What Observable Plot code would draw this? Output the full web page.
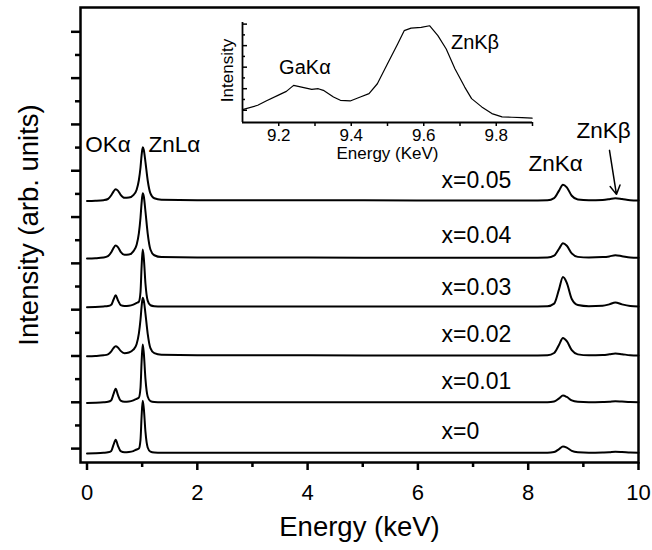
<!DOCTYPE html>
<html>
<head>
<meta charset="utf-8">
<script src="https://cdn.jsdelivr.net/npm/d3@7"></script>
<script src="https://cdn.jsdelivr.net/npm/@observablehq/plot@0.6"></script>
<style>
  html, body { margin: 0; padding: 0; background: #fff; }
  #chart { position: relative; width: 652px; height: 550px; }
  #chart svg { display: block; }
</style>
</head>
<body>
<div id="chart"></div>
<script>
// ---- Main EDS spectra (energy in keV, intensity in arb. units above each baseline) ----
const energy = [0, 0.15, 0.3, 0.38, 0.44, 0.48, 0.52, 0.56, 0.61, 0.68, 0.76, 0.84, 0.9, 0.94, 0.97, 0.99, 1.01, 1.03, 1.06, 1.1, 1.15, 1.22, 1.35, 2, 4, 6, 8, 8.35, 8.47, 8.56, 8.63, 8.7, 8.79, 8.9, 9.1, 9.35, 9.47, 9.58, 9.7, 9.85, 10];

const I_x005 = [-0.3, -0.2, 0.1, 0.6, 2.2, 3.8, 4.8, 4.2, 2.4, 1.1, 1.2, 2.3, 4.6, 8.7, 14.2, 19.5, 22.9, 21.8, 16.5, 8.7, 3.0, 0.9, 0.3, 0.1, 0.1, 0, 0, 0.1, 1.0, 4.2, 6.8, 5.6, 2.0, 0.4, 0.1, 0.2, 0.5, 0.9, 0.6, 0.1, 0];
const I_x004 = [-0.3, -0.2, 0.1, 0.7, 2.4, 4.2, 5.3, 4.6, 2.6, 1.3, 1.4, 2.8, 5.6, 10.6, 17.3, 23.7, 27.9, 26.5, 20, 10.6, 3.6, 1.1, 0.3, 0.1, 0.1, 0, 0, 0.1, 0.9, 3.9, 6.3, 5.2, 1.9, 0.4, 0.1, 0.3, 0.6, 1.1, 0.7, 0.1, 0];
const I_x003 = [-0.3, -0.2, 0, 0.15, 0.7, 2.9, 4.8, 2.7, 0.6, 0.2, 0.3, 0.8, 1.5, 2.0, 6.2, 17.2, 24.6, 20.9, 9.8, 2.5, 0.5, 0.1, 0, 0, 0, 0, 0, 0.1, 1.2, 7.5, 12.7, 10.2, 3.2, 0.6, 0.1, 0.3, 0.9, 1.7, 0.9, 0.2, 0];
const I_x002 = [-0.3, -0.2, 0.1, 0.5, 1.8, 3.2, 4.0, 3.5, 2.0, 1.0, 1.3, 2.5, 5.0, 9.5, 15.5, 21.2, 25, 23.7, 18, 9.5, 3.2, 1.0, 0.3, 0.1, 0.1, 0, 0, 0.1, 1.1, 4.7, 7.6, 6.2, 2.3, 0.5, 0.1, 0.2, 0.5, 0.9, 0.6, 0.1, 0];
const I_x001 = [-0.3, -0.2, 0, 0.2, 0.9, 3.5, 5.8, 3.2, 0.7, 0.2, 0.3, 0.8, 1.5, 2.0, 6.3, 17.5, 25, 21.2, 10, 2.5, 0.5, 0.1, 0, 0, 0, 0, 0, 0, 0.3, 1.7, 2.9, 2.3, 0.8, 0.2, 0, 0.1, 0.2, 0.45, 0.3, 0.1, 0];
const I_x000 = [-0.3, -0.2, 0, 0.2, 0.8, 3.4, 5.6, 3.1, 0.7, 0.2, 0.3, 0.7, 1.4, 1.8, 5.6, 15.8, 22.5, 19.1, 9, 2.3, 0.5, 0.1, 0, 0, 0, 0, 0, 0, 0.3, 1.6, 2.7, 2.2, 0.8, 0.2, 0, 0.1, 0.2, 0.4, 0.3, 0.1, 0];

const sampleNames = ["x=0.05", "x=0.04", "x=0.03", "x=0.02", "x=0.01", "x=0"];
const sampleOffsets = [107.2, 82.4, 61.4, 40.2, 20.0, -1.8];
const sampleValues = [I_x005, I_x004, I_x003, I_x002, I_x001, I_x000];

// tick values
const xMajor = [0, 2, 4, 6, 8, 10];
const xMinor = [1, 3, 5, 7, 9];
const yMajor = [0, 20, 40, 60, 80, 100, 120, 140, 160, 180];
const yMinor = [10, 30, 50, 70, 90, 110, 130, 150, 170];

// ---- Inset: ZnKβ / GaKα region ----
const insetEnergy = [9.100, 9.142, 9.165, 9.202, 9.221, 9.241, 9.263, 9.291, 9.309, 9.323, 9.351, 9.370, 9.397, 9.425, 9.449, 9.472, 9.500, 9.528, 9.546, 9.565, 9.593, 9.616, 9.639, 9.662, 9.686, 9.713, 9.732, 9.760, 9.788, 9.816, 9.843, 9.871, 9.899];
const insetIntensity = [0.06, 0.46, 0.86, 1.45, 1.75, 2.31, 2.15, 1.94, 2.0, 1.85, 1.23, 0.92, 0.86, 1.23, 1.54, 2.46, 4.31, 6.16, 7.39, 7.63, 7.69, 7.85, 6.93, 5.69, 3.85, 2.15, 1.08, 0.31, -0.31, -0.62, -0.65, -0.68, -0.74];
const insetXMajor = [9.2, 9.4, 9.6, 9.8];
const insetXMinor = [9.3, 9.5, 9.7, 9.9];
const insetYMajor = [0, 2, 4, 6, 8];
const insetYMinor = [1, 3, 5, 7];

// build tables
const rows = sampleNames.flatMap((name, s) =>
  energy.map((e, i) => ({series: name, E: e, y: sampleOffsets[s] + sampleValues[s][i]}))
);
const insetRows = insetEnergy.map((e, i) => ({E: e, I: insetIntensity[i]}));

const peakLabels = [
  {text: "OKα", x: -0.03, y: 131.4},
  {text: "ZnLα", x: 1.115, y: 131.4},
  {text: "ZnKα", x: 8.005, y: 123.2},
  {text: "ZnKβ", x: 8.876, y: 137.4}
];
const sampleLabelY = [115.8, 92.1, 69.6, 49.3, 29.0, 7.4];
const sampleLabels = sampleNames.map((n, i) => ({text: n, x: 6.43, y: sampleLabelY[i]}));

const font = "'Liberation Sans', Arial, Helvetica, sans-serif";
const blank = () => "";

const main = Plot.plot({
  width: 652, height: 550,
  marginLeft: 80, marginRight: 14, marginTop: 7, marginBottom: 88,
  x: {domain: [-0.118, 10]},
  y: {domain: [-6, 190.5]},
  style: {fontFamily: font, color: "black", background: "transparent", overflow: "visible"},
  marks: [
    Plot.line(rows, {x: "E", y: "y", z: "series", stroke: "black", strokeWidth: 2, curve: "monotone-x"}),
    Plot.frame({stroke: "black", strokeWidth: 2.5}),
    Plot.axisX({ticks: xMajor, tickSize: 8, tickPadding: 14, fontSize: 22, strokeWidth: 2.5, label: null, tickFormat: d => String(d)}),
    Plot.axisX({ticks: xMinor, tickSize: 5, strokeWidth: 2.5, label: null, tickFormat: blank}),
    Plot.axisY({ticks: yMajor, tickSize: 9, strokeWidth: 2.5, label: null, tickFormat: blank}),
    Plot.axisY({ticks: yMinor, tickSize: 5, strokeWidth: 2.5, label: null, tickFormat: blank}),
    Plot.text(peakLabels, {x: "x", y: "y", text: "text", textAnchor: "start", fontSize: 22.5, fill: "black"}),
    Plot.text(sampleLabels, {x: "x", y: "y", text: "text", textAnchor: "start", fontSize: 23, fill: "black"}),
    Plot.arrow([{x1: 9.474, y1: 128.8, x2: 9.60, y2: 109.8}], {x1: "x1", y1: "y1", x2: "x2", y2: "y2", stroke: "black", strokeWidth: 1.5, headLength: 10}),
    Plot.text(["Energy (keV)"], {frameAnchor: "bottom", dy: 65, textAnchor: "middle", lineAnchor: "middle", fontSize: 27.5, fill: "black"}),
    Plot.text(["Intensity (arb. units)"], {frameAnchor: "left", dx: -51, dy: -10, rotate: -90, textAnchor: "middle", lineAnchor: "middle", fontSize: 27.5, fill: "black"})
  ]
});

const inset = Plot.plot({
  width: 340, height: 165,
  marginLeft: 42, marginRight: 8, marginTop: 22, marginBottom: 43,
  x: {domain: [9.1, 9.9]},
  y: {domain: [-1.14, 8.15]},
  style: {fontFamily: font, color: "black", background: "transparent", overflow: "visible"},
  marks: [
    Plot.line(insetRows, {x: "E", y: "I", stroke: "black", strokeWidth: 1.2}),
    Plot.ruleX([9.1], {stroke: "black", strokeWidth: 1.8}),
    Plot.ruleY([-1.14], {stroke: "black", strokeWidth: 1.8}),
    Plot.axisX({ticks: insetXMajor, tickSize: 4, tickPadding: 2, fontSize: 17, strokeWidth: 1.5, label: null, tickFormat: d3.format(".1f")}),
    Plot.axisX({ticks: insetXMinor, tickSize: 4, strokeWidth: 1.5, label: null, tickFormat: blank}),
    Plot.axisY({ticks: insetYMajor, tickSize: 5, dx: 5, strokeWidth: 1.5, label: null, tickFormat: blank}),
    Plot.axisY({ticks: insetYMinor, tickSize: 3, dx: 3, strokeWidth: 1.5, label: null, tickFormat: blank}),
    Plot.text([{text: "GaKα", x: 9.201, y: 4.0}, {text: "ZnKβ", x: 9.675, y: 6.3}], {x: "x", y: "y", text: "text", textAnchor: "start", fontSize: 20, fill: "black"}),
    Plot.text(["Energy (KeV)"], {frameAnchor: "bottom", dy: 31, textAnchor: "middle", lineAnchor: "middle", fontSize: 17, fill: "black"}),
    Plot.text(["Intensity"], {frameAnchor: "left", dx: -15, dy: -2, rotate: -90, textAnchor: "middle", lineAnchor: "middle", fontSize: 17, fill: "black"})
  ]
});

const chart = document.getElementById("chart");
chart.appendChild(main);
inset.style.position = "absolute";
inset.style.left = "200px";
inset.style.top = "0px";
chart.appendChild(inset);
</script>
</body>
</html>
